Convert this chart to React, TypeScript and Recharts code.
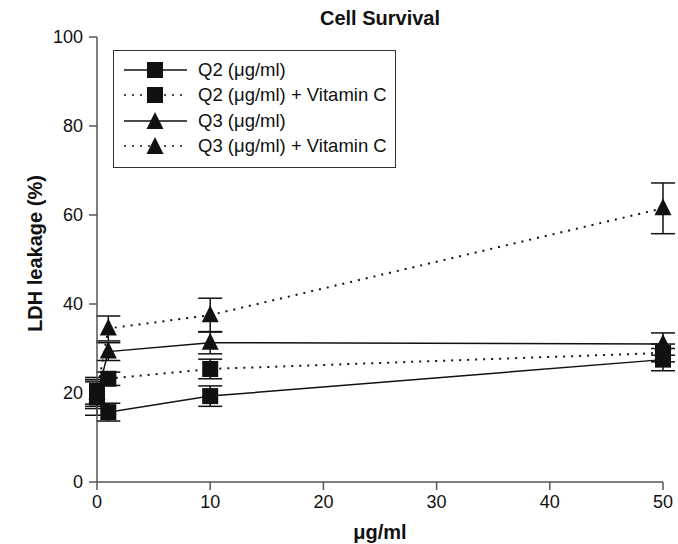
import { LineChart, Line, XAxis, YAxis, ErrorBar, Label } from 'recharts'

const doses = [0, 1, 10, 50]
const q2 = [19, 15.7, 19.3, 27.5]
const q2Err = [4, 2, 2.3, 2.5]
const q2VitC = [20.5, 23.2, 25.4, 29]
const q2VitCErr = [3, 1.5, 2.2, 2]
const q3 = [19.5, 29.3, 31.3, 31]
const q3Err = [3, 2, 2.5, 2.5]
const q3VitC = [20, 34.5, 37.5, 61.5]
const q3VitCErr = [3, 2.8, 3.8, 5.7]

const xTicks = [0, 10, 20, 30, 40, 50]
const yTicks = [0, 20, 40, 60, 80, 100]

const data = doses.map((d, i) => ({
  dose: d,
  q2: q2[i],
  q2Err: q2Err[i],
  q2VitC: q2VitC[i],
  q2VitCErr: q2VitCErr[i],
  q3: q3[i],
  q3Err: q3Err[i],
  q3VitC: q3VitC[i],
  q3VitCErr: q3VitCErr[i],
}))

const FONT = '"Liberation Sans", Arial, sans-serif'
const DOTTED = '2 6'

function Square(props: any) {
  const { cx, cy } = props
  if (cx == null || cy == null) return null
  return <rect x={cx - 8} y={cy - 8} width={16} height={16} fill="#111" />
}

function Triangle(props: any) {
  const { cx, cy } = props
  if (cx == null || cy == null) return null
  return <polygon points={`${cx},${cy - 10} ${cx + 8.5},${cy + 7} ${cx - 8.5},${cy + 7}`} fill="#111" />
}

const legendItems = [
  { label: 'Q2 (μg/ml)', dash: undefined, marker: 'square' },
  { label: 'Q2 (μg/ml) + Vitamin C', dash: DOTTED, marker: 'square' },
  { label: 'Q3 (μg/ml)', dash: undefined, marker: 'triangle' },
  { label: 'Q3 (μg/ml) + Vitamin C', dash: DOTTED, marker: 'triangle' },
]

// boxed legend in the upper left of the plot, like the original figure
function BoxLegend() {
  return (
    <div
      style={{
        position: 'absolute',
        left: 113,
        top: 50,
        width: 283,
        height: 118,
        border: '1.5px solid #333',
        background: '#fff',
        fontFamily: FONT,
        fontSize: 18.5,
        paddingTop: 6,
        boxSizing: 'border-box',
      }}
    >
      {legendItems.map((it) => (
        <div key={it.label} style={{ display: 'flex', alignItems: 'center', height: 25.5 }}>
          <svg width={84} height={22} style={{ flex: 'none' }}>
            <line x1={10} x2={73} y1={11} y2={11} stroke="#111" strokeWidth={1.5} strokeDasharray={it.dash} />
            {it.marker === 'square' ? <Square cx={41} cy={11} /> : <Triangle cx={41} cy={12} />}
          </svg>
          <span style={{ color: '#111' }}>{it.label}</span>
        </div>
      ))}
    </div>
  )
}

export default function App() {
  return (
    <div style={{ position: 'absolute', left: 0, top: 0, width: 678, height: 544, background: '#fff' }}>
      <div
        style={{
          position: 'absolute',
          left: 97,
          width: 566,
          top: 7,
          textAlign: 'center',
          fontFamily: FONT,
          fontWeight: 'bold',
          fontSize: 20,
          color: '#111',
        }}
      >
        Cell Survival
      </div>
      <LineChart width={678} height={544} data={data} margin={{ top: 37, right: 15, left: 37, bottom: 20 }}>
        <XAxis
          dataKey="dose"
          type="number"
          domain={[0, 50]}
          ticks={xTicks}
          tickSize={8}
          tickMargin={5}
          height={42}
          stroke="#555"
          strokeWidth={1.5}
          tick={{ fill: '#111', fontSize: 18, fontFamily: FONT }}
        >
          <Label
            value="μg/ml"
            position="bottom"
            offset={1}
            style={{ fill: '#111', fontSize: 20, fontWeight: 'bold', fontFamily: FONT }}
          />
        </XAxis>
        <YAxis
          type="number"
          domain={[0, 100]}
          ticks={yTicks}
          tickSize={8}
          tickMargin={6}
          width={60}
          stroke="#555"
          strokeWidth={1.5}
          tick={{ fill: '#111', fontSize: 18, fontFamily: FONT }}
          label={{
            content: (p: any) => {
              const vb = p.viewBox
              const cx = vb.x - 2
              const cy = vb.y + vb.height / 2 - 6
              return (
                <text
                  x={cx}
                  y={cy}
                  transform={`rotate(-90 ${cx} ${cy})`}
                  textAnchor="middle"
                  dominantBaseline="central"
                  style={{ fill: '#111', fontSize: 20, fontWeight: 'bold', fontFamily: FONT }}
                >
                  LDH leakage (%)
                </text>
              )
            },
          }}
        />
        <Line dataKey="q2" stroke="#111" strokeWidth={1.5} dot={<Square />} isAnimationActive={false}>
          <ErrorBar dataKey="q2Err" width={12} stroke="#111" strokeWidth={1.5} direction="y" />
        </Line>
        <Line
          dataKey="q2VitC"
          stroke="#111"
          strokeWidth={2}
          strokeDasharray={DOTTED}
          dot={<Square />}
          isAnimationActive={false}
        >
          <ErrorBar dataKey="q2VitCErr" width={12} stroke="#111" strokeWidth={1.5} strokeDasharray="0" direction="y" />
        </Line>
        <Line dataKey="q3" stroke="#111" strokeWidth={1.5} dot={<Triangle />} isAnimationActive={false}>
          <ErrorBar dataKey="q3Err" width={12} stroke="#111" strokeWidth={1.5} direction="y" />
        </Line>
        <Line
          dataKey="q3VitC"
          stroke="#111"
          strokeWidth={2}
          strokeDasharray={DOTTED}
          dot={<Triangle />}
          isAnimationActive={false}
        >
          <ErrorBar dataKey="q3VitCErr" width={12} stroke="#111" strokeWidth={1.5} strokeDasharray="0" direction="y" />
        </Line>
      </LineChart>
      <BoxLegend />
    </div>
  )
}
